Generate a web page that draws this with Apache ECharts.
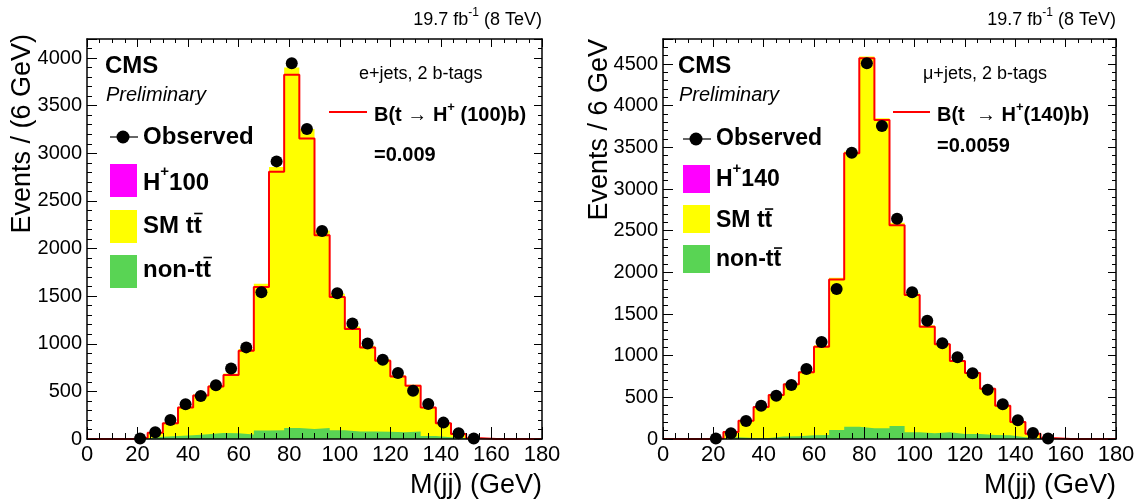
<!DOCTYPE html>
<html>
<head>
<meta charset="utf-8">
<script src="https://cdn.jsdelivr.net/npm/echarts@6/dist/echarts.min.js"></script>
<style>
html, body { margin: 0; padding: 0; background: #fff; }
#wrap { position: relative; width: 1143px; height: 502px; }
.panel { position: absolute; top: 0; height: 502px; }
#left { left: 0; width: 571px; }
#right { left: 571px; width: 572px; }
</style>
</head>
<body>
<div id="wrap">
  <div id="left" class="panel"></div>
  <div id="right" class="panel"></div>
</div>
<script>
// M(jj) bins, 6 GeV wide, low edges
var binLow = [0, 6, 12, 18, 24, 30, 36, 42, 48, 54, 60, 66, 72, 78, 84, 90, 96, 102, 108, 114, 120, 126, 132, 138, 144, 150, 156, 162, 168, 174];
var xMax = 180;
// bin centres where data points are drawn
var obsCenters = [21, 27, 33, 39, 45, 51, 57, 63, 69, 75, 81, 87, 93, 99, 105, 111, 117, 123, 129, 135, 141, 147, 153];

// e+jets, 2 b-tags
var eObserved = [5, 70, 200, 366, 452, 565, 740, 962, 1540, 2915, 3945, 3255, 2185, 1530, 1213, 1002, 832, 692, 506, 368, 172, 60, 6];
var eSignal = [0, 0, 0, 12, 66, 165, 330, 456, 550, 673, 926, 1597, 2807, 3824, 3155, 2140, 1492, 1155, 961, 821, 656, 558, 330, 165, 53, 7, 0, 0, 0, 0];
var eSMtt = [0, 0, 0, 12, 68, 170, 338, 466, 562, 688, 946, 1630, 2855, 3900, 3255, 2190, 1525, 1180, 980, 838, 670, 570, 337, 168, 54, 7, 0, 0, 0, 0];
var eNonTT = [0, 0, 0, 5, 24, 31, 39, 49, 63, 60, 46, 90, 92, 115, 105, 115, 92, 80, 80, 76, 70, 80, 32, 18, 10, 3, 0, 0, 0, 0];

// mu+jets, 2 b-tags
var mObserved = [5, 68, 216, 400, 520, 648, 840, 1164, 1800, 3436, 4508, 3756, 2644, 1760, 1420, 1148, 980, 788, 592, 416, 224, 72, 5];
var mSignal = [0, 0, 0, 8, 84, 220, 384, 528, 656, 800, 1108, 1915, 3428, 4568, 3828, 2564, 1728, 1348, 1136, 936, 792, 604, 400, 204, 64, 8, 0, 0, 0, 0];
var mSMtt = [0, 0, 0, 8, 86, 224, 390, 536, 666, 812, 1124, 1935, 3450, 4590, 3850, 2596, 1750, 1366, 1150, 948, 802, 612, 405, 207, 65, 8, 0, 0, 0, 0];
var mNonTT = [0, 0, 0, 3, 22, 12, 12, 30, 34, 44, 48, 108, 148, 128, 128, 156, 80, 68, 80, 60, 60, 48, 44, 22, 8, 3, 0, 0, 0, 0];

var FF = '"Liberation Sans", Arial, Helvetica, sans-serif';

function stepData(vals) {
    var d = binLow.map(function (x, i) { return [x, vals[i]]; });
    d.push([xMax, vals[vals.length - 1]]);
    return d;
}
function obsData(vals) {
    return obsCenters.map(function (c, i) { return [c, vals[i]]; });
}

// ROOT style frame: ticks inside on all four sides
function xAx(pos) {
    var bottom = pos === 'bottom';
    return {
        type: 'value', gridIndex: 0, position: pos, min: 0, max: xMax, interval: 20, z: 20,
        axisLine: { show: true, onZero: false, lineStyle: { color: '#000', width: 1.5 } },
        axisTick: { show: true, inside: true, length: bottom ? 12 : 8, lineStyle: { color: '#000', width: 1 } },
        minorTick: { show: true, splitNumber: 4, length: bottom ? 6 : 4, lineStyle: { color: '#000', width: 1 } },
        axisLabel: { show: bottom, fontSize: 22, color: '#000', fontFamily: FF, margin: 5,
            formatter: function (v) { return String(v); } },
        splitLine: { show: false }, minorSplitLine: { show: false }
    };
}
function yAx(pos, max) {
    var left = pos === 'left';
    return {
        type: 'value', gridIndex: 0, position: pos, min: 0, max: max, interval: 500, z: 20,
        axisLine: { show: true, onZero: false, lineStyle: { color: '#000', width: 1.5 } },
        axisTick: { show: true, inside: true, length: left ? 10 : 8, lineStyle: { color: '#000', width: 1 } },
        minorTick: { show: true, splitNumber: 5, length: left ? 5 : 4, lineStyle: { color: '#000', width: 1 } },
        axisLabel: { show: left, fontSize: 20, color: '#000', fontFamily: FF, margin: 5, showMaxLabel: false,
            formatter: function (v) { return String(v); } },
        splitLine: { show: false }, minorSplitLine: { show: false }
    };
}

function histSeries(smtt, nontt, signal, observed) {
    return [
        { type: 'line', step: 'end', data: stepData(smtt), symbol: 'none',
          lineStyle: { width: 0, opacity: 0 }, areaStyle: { color: '#ffff00', opacity: 1 }, silent: true, z: 1 },
        { type: 'line', step: 'end', data: stepData(nontt), symbol: 'none',
          lineStyle: { width: 0, opacity: 0 }, areaStyle: { color: '#59d454', opacity: 1 }, silent: true, z: 2 },
        { type: 'line', step: 'end', data: stepData(signal), symbol: 'none',
          lineStyle: { color: '#ff0000', width: 2 }, silent: true, z: 3 },
        { type: 'scatter', data: obsData(observed), symbol: 'circle', symbolSize: 12,
          itemStyle: { color: '#000', opacity: 1 }, silent: true, z: 4 }
    ];
}

// text runs (for superscripts and overbars); coordinates are page pixels, shifted by dx into the panel
var mctx = document.createElement('canvas').getContext('2d');
function fontStr(p) {
    return (p.style || 'normal') + ' ' + (p.weight || 'normal') + ' ' + p.size + 'px ' + FF;
}
function textRun(parts, x, y, align) {
    var widths = parts.map(function (p) { mctx.font = fontStr(p); return mctx.measureText(p.t).width; });
    var total = widths.reduce(function (a, b) { return a + b; }, 0);
    var cx = align === 'right' ? x - total : x;
    var els = [];
    parts.forEach(function (p, i) {
        els.push({ type: 'text', x: cx, y: y + (p.dy || 0), z: 10,
            style: { text: p.t, font: fontStr(p), fill: '#000', align: 'left', verticalAlign: 'middle' } });
        if (p.bar) {
            mctx.font = fontStr(p);
            var tw = mctx.measureText('t').width;
            var bx = cx + widths[i] - tw;
            els.push({ type: 'line', z: 10, shape: { x1: bx + 0.5, y1: y - p.size * 0.52, x2: bx + tw + 1, y2: y - p.size * 0.52 },
                style: { stroke: '#000', lineWidth: 1.6 } });
        }
        cx += widths[i];
    });
    return els;
}
function rect(x, y, w, h, color) {
    return { type: 'rect', z: 10, shape: { x: x, y: y, width: w, height: h }, style: { fill: color } };
}
function hline(x1, x2, y, color, w) {
    return { type: 'line', z: 10, shape: { x1: x1, y1: y, x2: x2, y2: y }, style: { stroke: color, lineWidth: w } };
}
function shift(el, dx) {
    if (el.x !== undefined) el.x -= dx;
    var s = el.shape;
    if (s) {
        ['x', 'x1', 'x2', 'cx'].forEach(function (k) { if (s[k] !== undefined) s[k] -= dx; });
    }
    return el;
}

function panelText(o) {
    var g = [];
    var fs = o.fs;
    g = g.concat(textRun([{ t: 'CMS', size: 24, weight: 'bold' }], o.x0, 66));
    g = g.concat(textRun([{ t: 'Preliminary', size: 20, style: 'italic' }], o.x0 + 1, 95));
    // observed
    g.push(hline(o.x0 + 5, o.x0 + 33, o.yObs, '#000', 1.2));
    g.push({ type: 'circle', z: 11, shape: { cx: o.x0 + 18, cy: o.yObs, r: 6.5 }, style: { fill: '#000' } });
    g = g.concat(textRun([{ t: 'Observed', size: fs, weight: 'bold' }], o.x0 + 38, o.yObs));
    // H+
    g.push(rect(o.x0 + 5, o.hRect[0], 27, o.hRect[1] - o.hRect[0], '#ff00ff'));
    g = g.concat(textRun([{ t: 'H', size: fs, weight: 'bold' }, { t: '+', size: 15, weight: 'bold', dy: -11 },
        { t: o.mass, size: fs, weight: 'bold' }], o.x0 + 38, o.yH));
    // SM tt
    g.push(rect(o.x0 + 5, o.yRect[0], 27, o.yRect[1] - o.yRect[0], '#ffff00'));
    g = g.concat(textRun([{ t: 'SM t', size: fs, weight: 'bold' }, { t: 't', size: fs, weight: 'bold', bar: true }], o.x0 + 38, o.ySM));
    // non-tt
    g.push(rect(o.x0 + 5, o.gRect[0], 27, o.gRect[1] - o.gRect[0], '#59d454'));
    g = g.concat(textRun([{ t: 'non-t', size: fs, weight: 'bold' }, { t: 't', size: fs, weight: 'bold', bar: true }], o.x0 + 38, o.yNon));
    // channel label
    g = g.concat(textRun([{ t: o.chan, size: 18 }], o.chanX, 74));
    // signal hypothesis
    g.push(hline(o.redX[0], o.redX[1], 112, '#ff0000', 2));
    g = g.concat(textRun(o.bParts, o.redX[1] + 7, 115));
    g = g.concat(textRun([{ t: o.br, size: 20, weight: 'bold' }], o.redX[1] + 7, o.yBr));
    // lumi
    g = g.concat(textRun([{ t: '19.7 fb', size: 18 }, { t: '-1', size: 12, dy: -7 }, { t: ' (8 TeV)', size: 18 }], o.right, 20, 'right'));
    // axis titles
    g = g.concat(textRun([{ t: 'M(jj) (GeV)', size: 27 }], o.right, 486, 'right'));
    g.push({ type: 'text', x: o.yTitleX, y: o.yTitleTop, rotation: Math.PI / 2, z: 10,
        style: { text: o.yTitle, font: fontStr({ size: 27 }), fill: '#000', align: 'right', verticalAlign: 'middle' } });
    return g.map(function (el) { return shift(el, o.dx); });
}

function drawPanel(id, grid, yMax, hist, text) {
    var chart = echarts.init(document.getElementById(id));
    chart.setOption({
        animation: false,
        backgroundColor: '#fff',
        textStyle: { fontFamily: FF },
        grid: [grid],
        xAxis: [xAx('bottom'), xAx('top')],
        yAxis: [yAx('left', yMax), yAx('right', yMax)],
        series: hist,
        graphic: panelText(text)
    });
    return chart;
}

drawPanel('left', { left: 87, top: 39, width: 455, height: 400 }, 4200,
    histSeries(eSMtt, eNonTT, eSignal, eObserved), {
        dx: 0, x0: 105, fs: 24, yObs: 137, hRect: [164, 197], yH: 183, yRect: [210, 243], ySM: 226, gRect: [255, 288], yNon: 270,
        mass: '100', chan: 'e+jets, 2 b-tags', chanX: 359, redX: [329, 367],
        bParts: [{ t: 'B(t ', size: 20, weight: 'bold' }, { t: '\u2192', size: 20 }, { t: ' H', size: 20, weight: 'bold' },
            { t: '+', size: 13, weight: 'bold', dy: -8 }, { t: ' (100)b)', size: 20, weight: 'bold' }],
        br: '=0.009', yBr: 155, right: 542, yTitleX: 23, yTitleTop: 34, yTitle: 'Events / (6 GeV)'
    });

drawPanel('right', { left: 92, top: 39, width: 453, height: 400 }, 4800,
    histSeries(mSMtt, mNonTT, mSignal, mObserved), {
        dx: 571, x0: 678, fs: 23, yObs: 139, hRect: [165, 193], yH: 180, yRect: [205, 233], ySM: 221, gRect: [245, 273], yNon: 260,
        mass: '140', chan: '\u03bc+jets, 2 b-tags', chanX: 923, redX: [893, 930],
        bParts: [{ t: 'B(t  ', size: 20, weight: 'bold' }, { t: '\u2192', size: 20 }, { t: ' H', size: 20, weight: 'bold' },
            { t: '+', size: 13, weight: 'bold', dy: -8 }, { t: '(140)b)', size: 20, weight: 'bold' }],
        br: '=0.0059', yBr: 146, right: 1116, yTitleX: 600, yTitleTop: 39, yTitle: 'Events / 6 GeV'
    });
</script>
</body>
</html>
